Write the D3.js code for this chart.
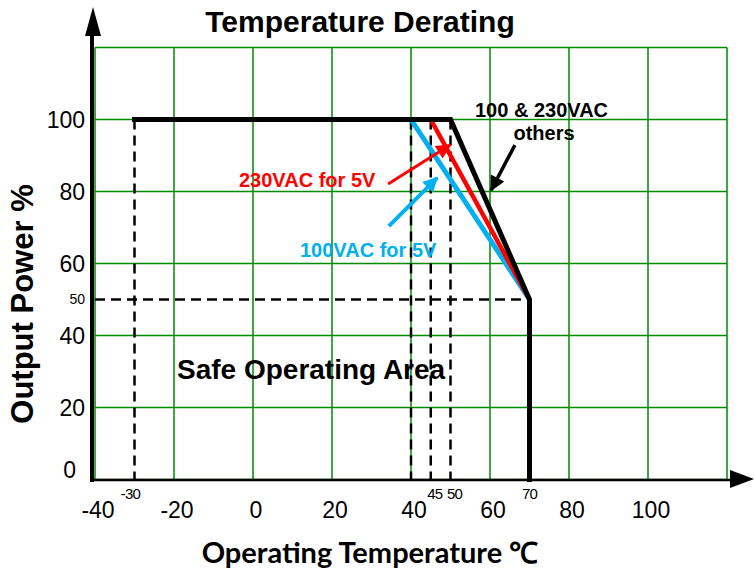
<!DOCTYPE html>
<html>
<head>
<meta charset="utf-8">
<script src="https://cdn.jsdelivr.net/npm/d3@7"></script>
<style>
  body { margin: 0; background: #fff; }
  svg { display: block; }
</style>
</head>
<body>
<script>
// Values
const xTicks = [-40, -20, 0, 20, 40, 60, 80, 100];
const yTicks = [0, 20, 40, 60, 80, 100];
const gridX = [-40, -20, 0, 20, 40, 60, 80, 100, 120];
const gridY = [0, 20, 40, 60, 80, 100, 120];
const markTemps = [-30, 45, 50, 70];
const dashTemps = [-30, 40, 45, 50];
const halfPower = 50;
const curveOthers = [[-30, 100], [50, 100], [70, 50], [70, 0]];
const curve230 = [[45, 100], [70, 50]];
const curve100 = [[40, 100], [70, 50]];

const W = 754, H = 573;
const svg = d3.select("body").append("svg")
    .attr("width", W)
    .attr("height", H)
    .attr("viewBox", `0 0 ${W} ${H}`);

const x = d3.scaleLinear().domain([-40, 120]).range([95, 727]);
const y = d3.scaleLinear().domain([0, 120]).range([479.5, 47.5]);

const green = "#008a00";
const blue = "#00b0f0";
const red = "#ff0000";

// grid
svg.append("g").selectAll("line").data(gridX).join("line")
    .attr("x1", d => x(d)).attr("x2", d => x(d))
    .attr("y1", y(0)).attr("y2", y(120))
    .attr("stroke", green).attr("stroke-width", 1.5);
svg.append("g").selectAll("line").data(gridY).join("line")
    .attr("x1", x(-40)).attr("x2", x(120))
    .attr("y1", d => y(d)).attr("y2", d => y(d))
    .attr("stroke", green).attr("stroke-width", 1.5);

// dashed guides
const dash = svg.append("g")
    .attr("stroke", "#000").attr("stroke-width", 2.5)
    .attr("stroke-dasharray", "10,6").attr("fill", "none");
dash.selectAll("line").data(dashTemps).join("line")
    .attr("x1", d => x(d)).attr("x2", d => x(d))
    .attr("y1", y(100)).attr("y2", y(0));
dash.append("line")
    .attr("x1", x(-40)).attr("x2", x(70))
    .attr("y1", y(halfPower)).attr("y2", y(halfPower));

// derating curves
const line = d3.line().x(d => x(d[0])).y(d => y(d[1]));
svg.append("path").datum(curve100).attr("d", line)
    .attr("fill", "none").attr("stroke", blue).attr("stroke-width", 5);
svg.append("path").datum(curve230).attr("d", line)
    .attr("fill", "none").attr("stroke", red).attr("stroke-width", 4.5);
svg.append("path").datum(curveOthers).attr("d", line)
    .attr("fill", "none").attr("stroke", "#000").attr("stroke-width", 5)
    .attr("stroke-linejoin", "miter").attr("stroke-linecap", "square");

// axes with arrow heads
svg.append("line").attr("x1", 92).attr("x2", 92).attr("y1", 482).attr("y2", 30)
    .attr("stroke", "#000").attr("stroke-width", 4);
svg.append("path").attr("d", "M93,7 L85,36 L101,36 Z").attr("fill", "#000");
svg.append("line").attr("x1", 90).attr("x2", 732).attr("y1", 480).attr("y2", 480)
    .attr("stroke", "#000").attr("stroke-width", 2.5);
svg.append("path").attr("d", "M754,479 L730,470 L730,488 Z").attr("fill", "#000");

// tick labels
svg.append("g").selectAll("text").data(xTicks).join("text")
    .attr("x", d => x(d) + 3).attr("y", 518)
    .attr("text-anchor", "middle")
    .attr("font-family", "Liberation Sans, Arial, sans-serif")
    .attr("font-size", 23)
    .text(d => d);
svg.append("g").selectAll("text").data(yTicks).join("text")
    .attr("x", d => d === 0 ? 76 : 85)
    .attr("y", d => y(d) + (d === 0 ? -2 : 8))
    .attr("text-anchor", "end")
    .attr("font-family", "Liberation Sans, Arial, sans-serif")
    .attr("font-size", 23)
    .text(d => d);
svg.append("text")
    .attr("x", 85).attr("y", y(halfPower) + 4)
    .attr("text-anchor", "end")
    .attr("font-family", "Liberation Sans, Arial, sans-serif")
    .attr("font-size", 14)
    .text(halfPower);
svg.append("g").selectAll("text").data(markTemps).join("text")
    .attr("x", d => x(d) + (d === -30 ? -4 : d === 45 ? 4 : d === 50 ? 4 : 0))
    .attr("y", 499)
    .attr("text-anchor", "middle")
    .attr("font-family", "Liberation Sans, Arial, sans-serif")
    .attr("font-size", 15)
    .attr("letter-spacing", -0.8)
    .text(d => d);

// titles
svg.append("text")
    .attr("x", 360).attr("y", 32)
    .attr("text-anchor", "middle")
    .attr("font-family", "Liberation Sans, Arial, sans-serif")
    .attr("font-size", 30).attr("font-weight", "bold")
    .text("Temperature Derating");
svg.append("text")
    .attr("transform", "translate(33,304) rotate(-90)")
    .attr("text-anchor", "middle")
    .attr("font-family", "Liberation Sans, Arial, sans-serif")
    .attr("font-size", 31).attr("font-weight", "bold")
    .text("Output Power %");
svg.append("text")
    .attr("x", 370).attr("y", 563)
    .attr("text-anchor", "middle")
    .attr("font-family", "Lato, Open Sans, sans-serif")
    .attr("font-size", 29).attr("font-weight", "bold")
    .text("Operating Temperature ℃");
svg.append("text")
    .attr("x", 177).attr("y", 379)
    .attr("font-family", "Liberation Sans, Arial, sans-serif")
    .attr("font-size", 28).attr("font-weight", "bold")
    .text("Safe Operating Area");

// annotations
const defs = svg.append("defs");
function addMarker(id, color) {
    defs.append("marker")
        .attr("id", id)
        .attr("viewBox", "0 0 10 10")
        .attr("refX", 9).attr("refY", 5)
        .attr("markerUnits", "userSpaceOnUse")
        .attr("markerWidth", 17).attr("markerHeight", 15)
        .attr("orient", "auto")
        .append("path").attr("d", "M0,0 L10,5 L0,10 Z").attr("fill", color);
}
addMarker("arrBlack", "#000");
addMarker("arrRed", red);
addMarker("arrBlue", blue);

function arrow(from, to, color, width, id) {
    svg.append("line")
        .attr("x1", x(from[0])).attr("y1", y(from[1]))
        .attr("x2", x(to[0])).attr("y2", y(to[1]))
        .attr("stroke", color).attr("stroke-width", width)
        .attr("marker-end", `url(#${id})`);
}
arrow([66.3, 92.9], [60.3, 80.4], "#000", 3.5, "arrBlack");
arrow([34.2, 82.1], [49.9, 92.9], red, 3, "arrRed");
arrow([34.4, 70.4], [46.6, 83.8], blue, 4, "arrBlue");

const note = svg.append("g")
    .attr("font-family", "Liberation Sans, Arial, sans-serif")
    .attr("font-size", 20).attr("font-weight", "bold");
note.append("text").attr("x", 475).attr("y", 117).attr("fill", "#000").text("100 & 230VAC");
note.append("text").attr("x", 544).attr("y", 140).attr("text-anchor", "middle").attr("fill", "#000").text("others");
note.append("text").attr("x", 239).attr("y", 187).attr("fill", red).text("230VAC for 5V");
note.append("text").attr("x", 300).attr("y", 257).attr("fill", blue).text("100VAC for 5V");
</script>
</body>
</html>
